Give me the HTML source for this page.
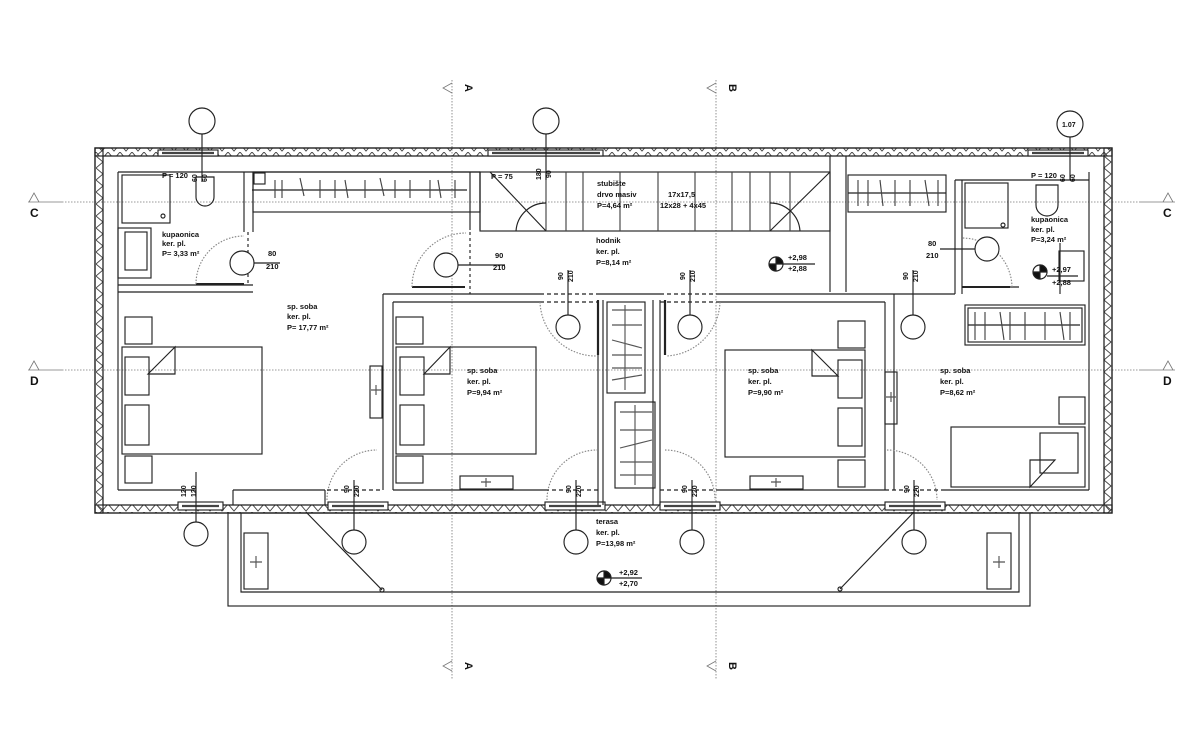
<!DOCTYPE html>
<html><head><meta charset="utf-8"><style>
html,body{margin:0;padding:0;background:#fff;}
svg{display:block;}
text{font-family:"Liberation Sans",sans-serif;fill:#111;}
.t{font-size:7.5px;font-weight:600;}
.b{font-size:12px;font-weight:bold;}
</style></head><body>
<svg width="1200" height="734" viewBox="0 0 1200 734" xmlns="http://www.w3.org/2000/svg">
<defs>
<pattern id="zh" width="12" height="8" patternUnits="userSpaceOnUse"><path d="M0,0 L6,7 L12,0" fill="none" stroke="#444" stroke-width="0.9"/></pattern>
<pattern id="zv" width="8" height="12" patternUnits="userSpaceOnUse"><path d="M0,0 L7,6 L0,12" fill="none" stroke="#444" stroke-width="0.9"/></pattern>
</defs>
<g stroke="#222" fill="none" stroke-width="1.15">
<g stroke="#777" stroke-width="0.8" stroke-dasharray="1.5,1.5">
<line x1="452" y1="80" x2="452" y2="680"/><line x1="716" y1="80" x2="716" y2="680"/>
<line x1="62" y1="202" x2="1140" y2="202"/><line x1="62" y1="370" x2="1140" y2="370"/>
</g>
<g stroke="#777" stroke-width="0.8">
<line x1="28" y1="202" x2="62" y2="202"/><line x1="1140" y1="202" x2="1175" y2="202"/>
<line x1="28" y1="370" x2="62" y2="370"/><line x1="1140" y1="370" x2="1175" y2="370"/>
<path d="M29,202 L34,193 L39,202"/><path d="M1163,202 L1168,193 L1173,202"/>
<path d="M29,370 L34,361 L39,370"/><path d="M1163,370 L1168,361 L1173,370"/>
<path d="M452,83 L443,88 L452,93"/><path d="M716,83 L707,88 L716,93"/>
<path d="M452,661 L443,666 L452,671"/><path d="M716,661 L707,666 L716,671"/>
</g>
<rect x="95" y="148" width="1017" height="8" fill="url(#zh)"/>
<rect x="95" y="505" width="1017" height="8" fill="url(#zh)"/>
<rect x="95" y="148" width="8" height="365" fill="url(#zv)"/>
<rect x="1104" y="148" width="8" height="365" fill="url(#zv)"/>
<rect x="95" y="148" width="1017" height="365" stroke-width="1.3"/>
<rect x="103" y="156" width="1001" height="349"/>
<line x1="118" y1="172" x2="118" y2="490"/><line x1="1089" y1="172" x2="1089" y2="490"/>
<line x1="118" y1="172" x2="480" y2="172"/><line x1="118" y1="490" x2="195" y2="490"/>
<g fill="#fff"><rect x="158" y="150" width="60" height="6"/><rect x="488" y="150" width="115" height="6"/><rect x="1028" y="150" width="60" height="6"/>
<rect x="178" y="502" width="45" height="8"/><rect x="328" y="502" width="60" height="8"/><rect x="545" y="502" width="60" height="8"/><rect x="660" y="502" width="60" height="8"/><rect x="885" y="502" width="60" height="8"/></g>
<g stroke-width="2.2" stroke="#444"><line x1="162" y1="153" x2="214" y2="153"/><line x1="492" y1="153" x2="600" y2="153"/><line x1="1032" y1="153" x2="1084" y2="153"/>
<line x1="182" y1="506" x2="219" y2="506"/><line x1="332" y1="506" x2="384" y2="506"/><line x1="549" y1="506" x2="601" y2="506"/><line x1="664" y1="506" x2="716" y2="506"/><line x1="889" y1="506" x2="941" y2="506"/></g>
<line x1="118" y1="285" x2="253" y2="285"/><line x1="118" y1="292" x2="253" y2="292"/>
<line x1="244" y1="172" x2="244" y2="232"/><line x1="253" y1="172" x2="253" y2="232"/>
<rect x="122" y="175" width="48" height="48"/><circle cx="163" cy="216" r="2"/>
<rect x="125" y="232" width="22" height="38"/><rect x="118" y="228" width="33" height="50"/>
<path d="M196,177 h18 v20 a9,9 0 0 1 -18,0z"/>
<line x1="196" y1="284" x2="244" y2="284" stroke-width="2"/>
<path d="M196,284 A48,48 0 0 1 244,236" stroke="#888" stroke-dasharray="1.5,1.5"/>
<line x1="248" y1="232" x2="248" y2="285" stroke-dasharray="3,3"/>
<rect x="253" y="172" width="227" height="40"/><line x1="252" y1="190" x2="467" y2="190"/>
<g stroke="#444"><path d="M275,180v18M282,180v18M300,178l4,18M320,180v18M335,180v18M345,180l3,18M365,180v18M380,178l4,18M395,180v18M410,180v18M430,180v18M438,180l3,18M455,180v18"/></g>
<rect x="254" y="173" width="11" height="11"/>
<line x1="470" y1="172" x2="470" y2="230"/><line x1="480" y1="172" x2="480" y2="230"/>
<rect x="480" y="172" width="350" height="59"/>
<g stroke="#444"><path d="M546,172v59M566,172v59M583,172v59M620,172v59M658,172v59M695,172v59M732,172v59M750,172v59M770,172v59M790,172v59"/></g>
<path d="M490,172 L546,231"/><path d="M516,231 A30,30 0 0 1 546,203"/>
<path d="M830,172 L770,231"/><path d="M800,231 A30,30 0 0 0 770,203"/>
<line x1="830" y1="156" x2="830" y2="292"/><line x1="846" y1="156" x2="846" y2="292"/>
<line x1="383" y1="294" x2="540" y2="294"/><line x1="393" y1="302" x2="540" y2="302"/>
<line x1="383" y1="294" x2="383" y2="490"/><line x1="393" y1="302" x2="393" y2="490"/>
<line x1="720" y1="294" x2="955" y2="294"/><line x1="720" y1="302" x2="885" y2="302"/>
<line x1="885" y1="302" x2="885" y2="490"/><line x1="894" y1="294" x2="894" y2="490"/>
<line x1="598" y1="294" x2="660" y2="294"/>
<line x1="598" y1="300" x2="598" y2="505"/><line x1="603" y1="300" x2="603" y2="505"/>
<line x1="653" y1="300" x2="653" y2="505"/><line x1="660" y1="300" x2="660" y2="505"/>
<rect x="607" y="302" width="38" height="91"/><rect x="615" y="402" width="40" height="86"/>
<g stroke="#555"><path d="M612,310h30M612,325h30M612,340l30,8M612,355h30M612,368h30M612,380l30,-5M625,305v85M620,412h32M620,430h32M620,448l32,-8M620,462h32M620,475h32M635,405v80"/></g>
<line x1="540" y1="294" x2="598" y2="294" stroke-dasharray="4,3"/><line x1="540" y1="302" x2="598" y2="302" stroke-dasharray="4,3"/>
<line x1="660" y1="294" x2="720" y2="294" stroke-dasharray="4,3"/><line x1="660" y1="302" x2="720" y2="302" stroke-dasharray="4,3"/>
<line x1="598" y1="300" x2="598" y2="355" stroke-width="2.2"/><line x1="665" y1="300" x2="665" y2="355" stroke-width="2.2"/>
<path d="M540,302 A56,56 0 0 0 596,356" stroke="#888" stroke-dasharray="1.5,1.5"/>
<path d="M720,302 A56,56 0 0 1 666,356" stroke="#888" stroke-dasharray="1.5,1.5"/>
<line x1="412" y1="287" x2="465" y2="287" stroke-width="2"/>
<path d="M412,287 A54,54 0 0 1 466,233" stroke="#888" stroke-dasharray="1.5,1.5"/>
<line x1="470" y1="232" x2="470" y2="294" stroke-dasharray="3,3"/>
<line x1="955" y1="180" x2="955" y2="294"/><line x1="962" y1="180" x2="962" y2="294"/>
<line x1="955" y1="180" x2="1089" y2="180"/>
<line x1="962" y1="287" x2="1019" y2="287"/>
<line x1="962" y1="287" x2="1010" y2="287" stroke-width="2"/>
<path d="M1012,287 A50,50 0 0 0 962,238" stroke="#888" stroke-dasharray="1.5,1.5"/>
<rect x="965" y="183" width="43" height="45"/><circle cx="1003" cy="225" r="2"/>
<path d="M1036,185 h22 v20 a11,11 0 0 1 -22,0z"/>
<line x1="1060" y1="243" x2="1060" y2="294"/><rect x="1059" y="251" width="25" height="30"/>
<rect x="848" y="175" width="98" height="37"/><line x1="848" y1="193" x2="946" y2="193"/>
<g stroke="#444"><path d="M858,180v26M868,180v26M880,180l3,26M895,180v26M910,180v26M925,180l4,26M938,180v26"/></g>
<rect x="965" y="305" width="120" height="40"/><rect x="968" y="308" width="114" height="34"/>
<line x1="968" y1="325" x2="1080" y2="325"/>
<g stroke="#444"><path d="M975,312v28M985,312v28M1000,312l4,28M1010,312v28M1025,312v28M1045,312v28M1060,312l4,28M1070,312v28"/></g>
<rect x="122" y="347" width="140" height="107"/><rect x="125" y="317" width="27" height="27"/><rect x="125" y="456" width="27" height="27"/>
<rect x="125" y="357" width="24" height="38"/><rect x="125" y="405" width="24" height="40"/>
<path d="M148,374 L175,347 V374Z"/>
<rect x="396" y="347" width="140" height="107"/><rect x="396" y="317" width="27" height="27"/><rect x="396" y="456" width="27" height="27"/>
<rect x="400" y="357" width="24" height="38"/><rect x="400" y="405" width="24" height="40"/>
<path d="M424,374 L450,347 V374Z"/>
<rect x="725" y="350" width="140" height="107"/><rect x="838" y="321" width="27" height="27"/><rect x="838" y="460" width="27" height="27"/>
<rect x="838" y="360" width="24" height="38"/><rect x="838" y="408" width="24" height="38"/>
<path d="M812,350 L838,376 H812Z"/>
<rect x="951" y="427" width="134" height="60"/><rect x="1059" y="397" width="26" height="27"/>
<rect x="1040" y="433" width="38" height="40"/><path d="M1030,487 L1055,460 H1030Z"/>
<rect x="370" y="366" width="12" height="52"/><rect x="885" y="372" width="12" height="52"/>
<rect x="460" y="476" width="53" height="13"/><rect x="750" y="476" width="53" height="13"/>
<g stroke="#555"><path d="M486,478v9M481,482h10M776,478v9M771,482h10M376,385v10M371,390h10M891,392v10M886,397h10"/></g>
<line x1="233" y1="490" x2="325" y2="490"/><line x1="233" y1="490" x2="233" y2="505"/><line x1="325" y1="490" x2="325" y2="505"/>
<line x1="393" y1="490" x2="545" y2="490"/><line x1="720" y1="490" x2="885" y2="490"/><line x1="945" y1="490" x2="1089" y2="490"/>
<path d="M327,500 A50,50 0 0 1 377,450" stroke="#888" stroke-dasharray="1.5,1.5"/>
<path d="M547,500 A50,50 0 0 1 597,450" stroke="#888" stroke-dasharray="1.5,1.5"/>
<path d="M665,450 A50,50 0 0 1 715,500" stroke="#888" stroke-dasharray="1.5,1.5"/>
<path d="M887,450 A50,50 0 0 1 937,500" stroke="#888" stroke-dasharray="1.5,1.5"/>
<g stroke-dasharray="4,3"><line x1="327" y1="490" x2="383" y2="490"/><line x1="545" y1="490" x2="598" y2="490"/><line x1="660" y1="490" x2="720" y2="490"/><line x1="885" y1="490" x2="945" y2="490"/></g>
<rect x="228" y="513" width="802" height="93"/>
<path d="M241,513 V592 H1019 V513"/>
<rect x="244" y="533" width="24" height="56"/><rect x="987" y="533" width="24" height="56"/>
<g stroke="#555"><path d="M256,556v12M250,562h12M999,556v12M993,562h12"/></g>
<line x1="306" y1="512" x2="382" y2="590"/><circle cx="382" cy="590" r="2"/>
<line x1="914" y1="512" x2="840" y2="589"/><circle cx="840" cy="589" r="2"/>
<g fill="#fff">
<circle cx="202" cy="121" r="13"/><circle cx="546" cy="121" r="13"/><circle cx="1070" cy="124" r="13"/>
<circle cx="242" cy="263" r="12"/><circle cx="446" cy="265" r="12"/><circle cx="987" cy="249" r="12"/>
<circle cx="568" cy="327" r="12"/><circle cx="690" cy="327" r="12"/><circle cx="913" cy="327" r="12"/>
<circle cx="196" cy="534" r="12"/><circle cx="354" cy="542" r="12"/><circle cx="576" cy="542" r="12"/><circle cx="692" cy="542" r="12"/><circle cx="914" cy="542" r="12"/>
</g>
<g><line x1="202" y1="134" x2="202" y2="182"/><line x1="546" y1="134" x2="546" y2="180"/><line x1="1070" y1="137" x2="1070" y2="180"/>
<line x1="254" y1="263" x2="280" y2="263"/><line x1="458" y1="265" x2="505" y2="265"/><line x1="940" y1="249" x2="975" y2="249"/>
<line x1="568" y1="270" x2="568" y2="315"/><line x1="690" y1="270" x2="690" y2="315"/><line x1="913" y1="270" x2="913" y2="315"/>
<line x1="196" y1="472" x2="196" y2="522"/><line x1="354" y1="480" x2="354" y2="530"/><line x1="576" y1="480" x2="576" y2="530"/><line x1="692" y1="480" x2="692" y2="530"/><line x1="914" y1="480" x2="914" y2="530"/></g>
<g><circle cx="776" cy="264" r="7"/><path d="M776,257 A7,7 0 0 1 783,264 H776Z" fill="#111"/><path d="M776,271 A7,7 0 0 1 769,264 H776Z" fill="#111"/><line x1="783" y1="264" x2="815" y2="264"/>
<circle cx="1040" cy="272" r="7"/><path d="M1040,265 A7,7 0 0 1 1047,272 H1040Z" fill="#111"/><path d="M1040,279 A7,7 0 0 1 1033,272 H1040Z" fill="#111"/><line x1="1047" y1="276" x2="1078" y2="276"/>
<circle cx="604" cy="578" r="7"/><path d="M604,571 A7,7 0 0 1 611,578 H604Z" fill="#111"/><path d="M604,585 A7,7 0 0 1 597,578 H604Z" fill="#111"/><line x1="611" y1="578" x2="642" y2="578"/></g>
</g>
<text class="b" x="30" y="217">C</text><text class="b" x="30" y="385">D</text>
<text class="b" x="1163" y="217">C</text><text class="b" x="1163" y="385">D</text>
<g class="b" style="font-size:11px">
<text transform="translate(465,84) rotate(90)">A</text><text transform="translate(729,84) rotate(90)">B</text>
<text transform="translate(465,662) rotate(90)">A</text><text transform="translate(729,662) rotate(90)">B</text>
</g>
<g class="t">
<text x="1062" y="127" style="font-size:7px">1.07</text>
<text x="162" y="178">P = 120</text><text x="1031" y="178">P = 120</text><text x="491" y="179">P = 75</text>
<text x="162" y="237">kupaonica</text><text x="162" y="246">ker. pl.</text><text x="162" y="256">P= 3,33 m²</text>
<text x="1031" y="222">kupaonica</text><text x="1031" y="232">ker. pl.</text><text x="1031" y="242">P=3,24 m²</text>
<text x="597" y="186">stubište</text><text x="597" y="197">drvo masiv</text><text x="597" y="208">P=4,64 m²</text>
<text x="668" y="197">17x17,5</text><text x="660" y="208">12x28 + 4x45</text>
<text x="596" y="243">hodnik</text><text x="596" y="254">ker. pl.</text><text x="596" y="265">P=8,14 m²</text>
<text x="268" y="256">80</text><text x="266" y="269">210</text>
<text x="495" y="258">90</text><text x="493" y="270">210</text>
<text x="928" y="246">80</text><text x="926" y="258">210</text>
<text x="788" y="260">+2,98</text><text x="788" y="271">+2,88</text>
<text x="1052" y="272">+2,97</text><text x="1052" y="285">+2,88</text>
<text x="619" y="575">+2,92</text><text x="619" y="586">+2,70</text>
<text x="287" y="309">sp. soba</text><text x="287" y="319">ker. pl.</text><text x="287" y="330">P= 17,77 m²</text>
<text x="467" y="373">sp. soba</text><text x="467" y="384">ker. pl.</text><text x="467" y="395">P=9,94 m²</text>
<text x="748" y="373">sp. soba</text><text x="748" y="384">ker. pl.</text><text x="748" y="395">P=9,90 m²</text>
<text x="940" y="373">sp. soba</text><text x="940" y="384">ker. pl.</text><text x="940" y="395">P=8,62 m²</text>
<text x="596" y="524">terasa</text><text x="596" y="535">ker. pl.</text><text x="596" y="546">P=13,98 m²</text>
<g style="font-size:7px">
<text transform="translate(186,497) rotate(-90)">120</text><text transform="translate(196,497) rotate(-90)">120</text>
<text transform="translate(349,493) rotate(-90)">90</text><text transform="translate(359,497) rotate(-90)">220</text>
<text transform="translate(571,493) rotate(-90)">90</text><text transform="translate(581,497) rotate(-90)">220</text>
<text transform="translate(687,493) rotate(-90)">90</text><text transform="translate(697,497) rotate(-90)">220</text>
<text transform="translate(909,493) rotate(-90)">90</text><text transform="translate(919,497) rotate(-90)">220</text>
<text transform="translate(563,280) rotate(-90)">90</text><text transform="translate(573,282) rotate(-90)">210</text>
<text transform="translate(685,280) rotate(-90)">90</text><text transform="translate(695,282) rotate(-90)">210</text>
<text transform="translate(908,280) rotate(-90)">90</text><text transform="translate(918,282) rotate(-90)">210</text>
<text transform="translate(541,180) rotate(-90)">180</text><text transform="translate(551,178) rotate(-90)">90</text>
<text transform="translate(197,182) rotate(-90)">60</text><text transform="translate(207,182) rotate(-90)">60</text>
<text transform="translate(1065,182) rotate(-90)">60</text><text transform="translate(1075,182) rotate(-90)">60</text>
</g>
</g>
</svg>
</body></html>
